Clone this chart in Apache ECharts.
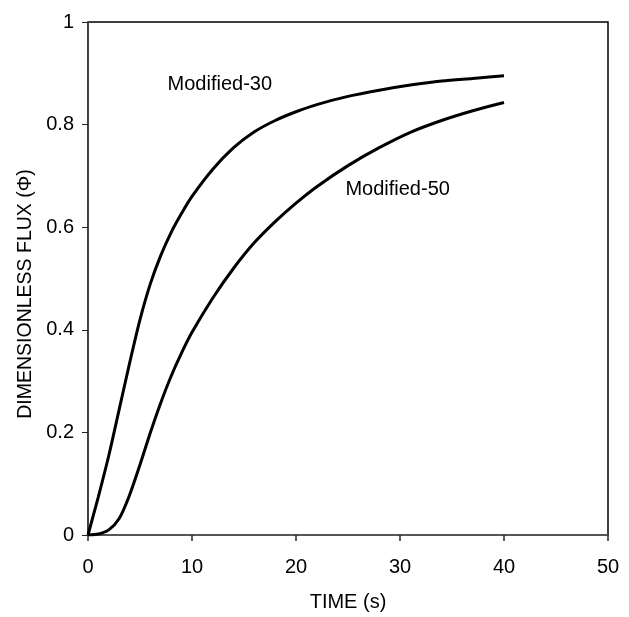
<!DOCTYPE html>
<html><head><meta charset="utf-8">
<script src="https://cdn.jsdelivr.net/npm/echarts@6/dist/echarts.min.js"></script>
<style>html,body{margin:0;padding:0;background:#fff}#c{width:629px;height:617px}</style>
</head><body><div id="c"></div>
<script>
const time30 = [0, 1, 2, 3, 4, 5, 6, 7, 8, 9, 10, 12, 14, 16, 18, 20, 22, 25, 28, 31, 34, 37, 40];
const flux30 = [0, 0.075, 0.155, 0.245, 0.335, 0.42, 0.49, 0.545, 0.59, 0.627, 0.66, 0.713, 0.755, 0.786, 0.808, 0.825, 0.839, 0.855, 0.867, 0.877, 0.885, 0.890, 0.895];
const time50 = [0, 1, 2, 3, 4, 5, 6, 7, 8, 9, 10, 12, 14, 16, 18, 20, 22, 25, 28, 31, 34, 37, 40];
const flux50 = [0, 0.002, 0.01, 0.032, 0.078, 0.137, 0.2, 0.258, 0.31, 0.355, 0.395, 0.462, 0.52, 0.57, 0.611, 0.647, 0.679, 0.72, 0.755, 0.785, 0.808, 0.827, 0.843];
const seriesNames = ['Modified-30', 'Modified-50'];
const labelPos = [[7.6, 0.878], [24.7, 0.674]];
const xTitle = 'TIME (s)';
const yTitle = 'DIMENSIONLESS FLUX (\u03A6)';

const font = 'Liberation Sans, Arial, sans-serif';
const chart = echarts.init(document.getElementById('c'));
const zip = (a, b) => a.map((v, i) => [v, b[i]]);
chart.setOption({
  animation: false,
  backgroundColor: '#fff',
  grid: { left: 88, top: 22, right: 21, bottom: 73, show: true, borderColor: '#000', borderWidth: 1.5, backgroundColor: 'transparent' },
  graphic: [{ type: 'text', rotation: Math.PI / 2, x: 26, y: 294,
    style: { text: yTitle, fontFamily: font, fontSize: 19.5, fill: '#000', align: 'center', verticalAlign: 'middle' } }],
  xAxis: {
    type: 'value', min: 0, max: 50, interval: 10,
    name: xTitle, nameLocation: 'middle', nameGap: 57,
    nameTextStyle: { fontFamily: font, fontSize: 20, color: '#000' },
    axisLine: { show: true, lineStyle: { color: '#555', width: 2 } },
    axisTick: { show: true, inside: false, length: 6, lineStyle: { color: '#222', width: 1.5 } },
    axisLabel: { margin: 22, fontFamily: font, fontSize: 20, color: '#000' },
    splitLine: { show: false }
  },
  yAxis: {
    type: 'value', min: 0, max: 1, interval: 0.2,
    axisLine: { show: true, lineStyle: { color: '#444', width: 1 } },
    axisTick: { show: true, inside: false, length: 6, lineStyle: { color: '#222', width: 1 } },
    axisLabel: { margin: 14, fontFamily: font, fontSize: 20, color: '#000',
      formatter: v => (v === 0 || v === 1) ? String(v) : v.toFixed(1) },
    splitLine: { show: false }
  },
  series: [
    { name: seriesNames[0], type: 'line', data: zip(time30, flux30), smooth: 0.3, showSymbol: false,
      lineStyle: { color: '#000', width: 3 } },
    { name: seriesNames[1], type: 'line', data: zip(time50, flux50), smooth: 0.3, showSymbol: false,
      lineStyle: { color: '#000', width: 3 } },
    { type: 'scatter', symbolSize: 1, silent: true, z: 10, itemStyle: { color: 'rgba(0,0,0,0)', opacity: 1 },
      data: labelPos.map((p, i) => ({ value: p, label: { show: true, formatter: seriesNames[i], position: 'right', distance: 0,
        fontFamily: font, fontSize: 20, color: '#000', opacity: 1, textBorderWidth: 0 } })) }
  ]
});
</script></body></html>
